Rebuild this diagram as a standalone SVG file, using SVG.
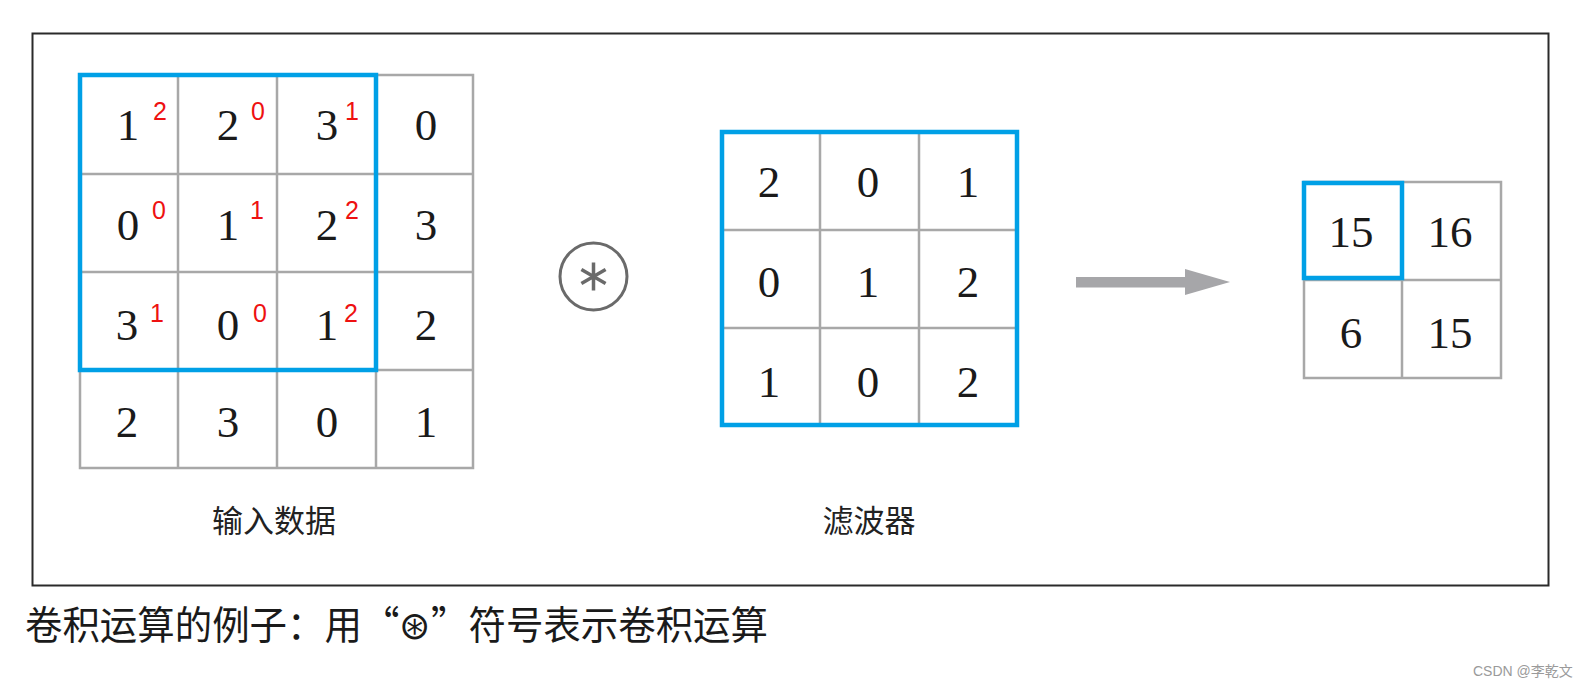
<svg xmlns="http://www.w3.org/2000/svg" width="1588" height="687" viewBox="0 0 1588 687">
<style>
.grid{fill:none;stroke:#a8a8a8;stroke-width:2.5}
.blue{fill:none;stroke:#00a0e6;stroke-width:4.5}
.num{font-family:"Liberation Serif","DejaVu Serif",serif;font-size:45px;fill:#1a1a1a;text-anchor:middle}
.sup{font-family:"Liberation Sans","DejaVu Sans",sans-serif;font-size:25px;fill:#ee1111;text-anchor:middle}
.lbl{font-family:"Noto Sans CJK SC",sans-serif;font-size:31px;fill:#222;text-anchor:middle}
.cap{font-family:"Noto Sans CJK SC",sans-serif;font-size:39px;fill:#1a1a1a}
.wm{font-family:"Liberation Sans","Noto Sans CJK SC",sans-serif;font-size:14px;fill:#9a9a9a}
</style>
<rect x="0" y="0" width="1588" height="687" fill="#ffffff"/>
<rect id="frame" x="32.5" y="33.5" width="1516" height="552" fill="none" stroke="#2a2a2a" stroke-width="2"/>

<g id="input">
<path class="grid" d="M80,75H473V468H80Z M178,75V468 M277,75V468 M376,75V468 M80,174H473 M80,272H473 M80,370H473"/>
<rect class="blue" x="80" y="75" width="296" height="295"/>
<text class="num" x="128" y="140">1</text><text class="num" x="228" y="140">2</text><text class="num" x="327" y="140">3</text><text class="num" x="426" y="140">0</text>
<text class="num" x="128" y="240">0</text><text class="num" x="228" y="240">1</text><text class="num" x="327" y="240">2</text><text class="num" x="426" y="240">3</text>
<text class="num" x="127" y="340">3</text><text class="num" x="228" y="340">0</text><text class="num" x="327" y="340">1</text><text class="num" x="426" y="340">2</text>
<text class="num" x="127" y="437">2</text><text class="num" x="228" y="437">3</text><text class="num" x="327" y="437">0</text><text class="num" x="426" y="437">1</text>
<text class="sup" x="160" y="120">2</text><text class="sup" x="258" y="120">0</text><text class="sup" x="352" y="120">1</text>
<text class="sup" x="159" y="219">0</text><text class="sup" x="257" y="219">1</text><text class="sup" x="352" y="219">2</text>
<text class="sup" x="157" y="322">1</text><text class="sup" x="260" y="322">0</text><text class="sup" x="351" y="322">2</text>
<text class="lbl" x="274" y="532">输入数据</text>
</g>

<g id="operator">
<circle cx="593.5" cy="276.5" r="33.5" fill="none" stroke="#6a6a6a" stroke-width="3"/>
<path d="M593.5,262.5V290.5 M581.4,269.5L605.6,283.5 M581.4,283.5L605.6,269.5" stroke="#6a6a6a" stroke-width="3.5" fill="none"/>
</g>

<g id="filter">
<path class="grid" d="M820,132V425 M919,132V425 M722,230H1017 M722,328H1017"/>
<rect class="blue" x="722" y="132" width="295" height="293"/>
<text class="num" x="769" y="197">2</text><text class="num" x="868" y="197">0</text><text class="num" x="968" y="197">1</text>
<text class="num" x="769" y="297">0</text><text class="num" x="868" y="297">1</text><text class="num" x="968" y="297">2</text>
<text class="num" x="769" y="397">1</text><text class="num" x="868" y="397">0</text><text class="num" x="968" y="397">2</text>
<text class="lbl" x="869" y="532">滤波器</text>
</g>

<g id="connectors">
<rect x="1076" y="277" width="110" height="10.5" fill="#a6a6a9"/>
<polygon points="1185,269 1230,282 1185,295" fill="#a6a6a9"/>
</g>

<g id="output">
<path class="grid" d="M1304,182H1501V378H1304Z M1402,182V378 M1304,280H1501"/>
<rect class="blue" x="1304" y="183" width="98" height="95"/>
<text class="num" x="1351" y="247">15</text><text class="num" x="1450" y="247">16</text>
<text class="num" x="1351" y="348">6</text><text class="num" x="1450" y="348">15</text>
</g>

<text class="cap" x="25" y="639" textLength="743" lengthAdjust="spacingAndGlyphs">卷积运算的例子：用“⊛”符号表示卷积运算</text>
<text class="wm" x="1473" y="676">CSDN @李乾文</text>
</svg>
